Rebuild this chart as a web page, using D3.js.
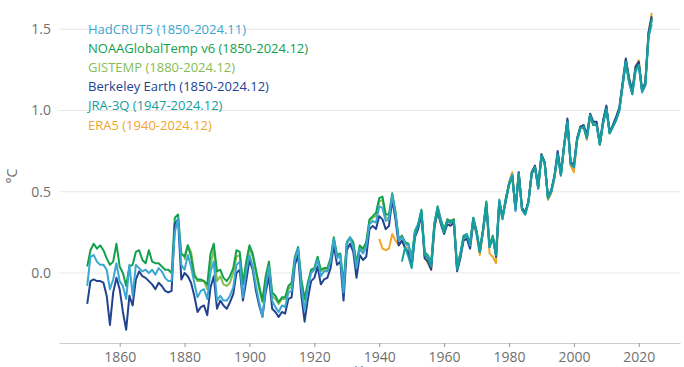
<!DOCTYPE html>
<html><head><meta charset="utf-8">
<script src="https://cdn.jsdelivr.net/npm/d3@7"></script>
<style>body{margin:0;background:#fff}svg{display:block;font-family:"Open Sans",sans-serif}</style>
</head><body>
<svg id="chart" width="684" height="367"></svg>
<script>
// ---- data (anomalies, °C, vs 1850-1900) ----
const hadcrutStart = 1850;
const hadcrut = [
-0.08,0.10,0.11,0.07,0.05,0.05,0.02,-0.10,-0.04,0.06,
-0.05,-0.08,-0.16,0.05,-0.14,0.05,0.03,0.01,0.02,0.00,
0.02,-0.01,0.03,0.01,-0.03,-0.05,-0.05,0.25,0.34,0.05,
0.02,0.11,0.04,-0.06,-0.15,-0.11,-0.10,-0.16,0.01,0.07,
-0.17,-0.14,-0.17,-0.17,-0.14,-0.09,0.05,0.07,-0.15,0.01,
0.11,0.04,-0.08,-0.18,-0.27,-0.09,0.04,-0.17,-0.21,-0.24,
-0.20,-0.21,-0.12,-0.11,0.08,0.15,-0.09,-0.23,-0.09,0.00,
0.02,0.08,-0.02,0.01,0.01,0.07,0.21,0.09,0.11,-0.12,
0.18,0.22,0.16,0.03,0.15,0.12,0.16,0.30,0.32,0.31,
0.41,0.40,0.32,0.33,0.48,0.36,0.20,0.22,0.18,0.17,
0.08,0.25,0.30,0.38,0.12,0.10,0.05,0.30,0.40,0.32,
0.26,0.32,0.31,0.32,0.03,0.11,0.22,0.24,0.17,0.33,
0.25,0.13,0.26,0.43,0.16,0.22,0.11,0.45,0.33,0.45,
0.55,0.60,0.38,0.61,0.39,0.36,0.43,0.61,0.65,0.52,
0.72,0.67,0.46,0.50,0.59,0.73,0.60,0.78,0.93,0.67,
0.65,0.82,0.89,0.90,0.83,0.97,0.91,0.91,0.79,0.92,
1.01,0.86,0.90,0.94,1.00,1.15,1.30,1.17,1.10,1.24,
1.28,1.11,1.15,1.45,1.53];

const noaaStart = 1850;
const noaa = [
0.04,0.14,0.18,0.15,0.17,0.14,0.09,0.05,0.07,0.18,
0.04,0.00,-0.08,0.04,0.05,0.13,0.14,0.08,0.06,0.14,
0.07,0.06,0.06,0.04,0.02,0.02,0.00,0.34,0.36,0.12,
0.10,0.17,0.10,-0.02,-0.04,-0.04,-0.05,-0.07,0.12,0.18,
0.01,0.02,-0.03,-0.05,-0.02,0.03,0.14,0.13,-0.07,0.07,
0.17,0.12,0.02,-0.08,-0.17,-0.02,0.07,-0.12,-0.14,-0.18,
-0.15,-0.15,-0.08,-0.06,0.10,0.16,-0.04,-0.16,-0.06,0.02,
0.03,0.10,0.02,0.03,0.03,0.09,0.22,0.11,0.12,-0.07,
0.19,0.22,0.19,0.06,0.17,0.15,0.19,0.33,0.35,0.37,
0.46,0.47,0.36,0.36,0.49,0.38,0.21,0.23,0.19,0.18,
0.09,0.26,0.30,0.39,0.13,0.11,0.06,0.31,0.41,0.33,
0.27,0.33,0.32,0.33,0.04,0.12,0.23,0.24,0.18,0.34,
0.26,0.14,0.27,0.44,0.17,0.23,0.12,0.45,0.34,0.46,
0.55,0.60,0.39,0.61,0.40,0.37,0.44,0.61,0.65,0.53,
0.72,0.68,0.47,0.50,0.59,0.73,0.61,0.78,0.93,0.67,
0.66,0.82,0.89,0.90,0.83,0.97,0.91,0.91,0.79,0.93,
1.02,0.86,0.90,0.95,1.00,1.16,1.30,1.18,1.11,1.25,
1.28,1.12,1.16,1.46,1.56];

const gistempStart = 1880;
const gistemp = [
0.08,0.17,0.13,0.00,-0.05,-0.05,-0.05,-0.10,0.05,0.15,
-0.05,-0.02,-0.07,-0.08,-0.06,0.00,0.10,0.11,-0.06,0.05,
0.15,0.10,0.00,-0.10,-0.18,-0.04,0.05,-0.14,-0.16,-0.19,
-0.16,-0.16,-0.10,-0.08,0.09,0.15,-0.06,-0.17,-0.07,0.01,
0.02,0.09,0.01,0.02,0.02,0.08,0.21,0.10,0.11,-0.08,
0.18,0.21,0.18,0.05,0.16,0.14,0.18,0.32,0.34,0.35,
0.44,0.45,0.34,0.34,0.47,0.37,0.20,0.22,0.18,0.17,
0.08,0.25,0.29,0.38,0.12,0.10,0.05,0.30,0.40,0.32,
0.26,0.32,0.31,0.32,0.03,0.11,0.22,0.23,0.17,0.33,
0.25,0.13,0.26,0.43,0.16,0.22,0.11,0.44,0.33,0.45,
0.55,0.61,0.39,0.62,0.40,0.37,0.44,0.62,0.66,0.53,
0.73,0.68,0.46,0.50,0.59,0.74,0.61,0.79,0.94,0.68,
0.66,0.83,0.90,0.91,0.84,0.98,0.92,0.92,0.80,0.93,
1.02,0.87,0.91,0.95,1.01,1.16,1.31,1.19,1.11,1.26,
1.29,1.12,1.16,1.47,1.57];

const berkeleyStart = 1850;
const berkeley = [
-0.19,-0.05,-0.04,-0.05,-0.05,-0.06,-0.14,-0.32,-0.12,-0.03,
-0.10,-0.24,-0.35,-0.14,-0.20,-0.04,0.01,-0.02,-0.03,-0.05,
-0.07,-0.10,-0.06,-0.08,-0.11,-0.12,-0.11,0.30,0.33,-0.04,
0.00,-0.02,-0.06,-0.14,-0.24,-0.21,-0.20,-0.26,-0.09,-0.02,
-0.22,-0.17,-0.20,-0.22,-0.18,-0.13,0.00,0.02,-0.17,-0.05,
0.08,0.02,-0.11,-0.20,-0.27,-0.12,-0.02,-0.22,-0.24,-0.27,
-0.24,-0.25,-0.16,-0.15,0.05,0.11,-0.14,-0.30,-0.16,-0.05,
-0.03,0.04,-0.07,-0.04,-0.03,0.03,0.17,0.05,0.07,-0.17,
0.14,0.18,0.13,-0.03,0.11,0.08,0.10,0.27,0.29,0.27,
0.35,0.33,0.27,0.29,0.45,0.33,0.17,0.20,0.15,0.13,
0.04,0.22,0.27,0.36,0.09,0.07,0.02,0.28,0.38,0.30,
0.24,0.30,0.29,0.31,0.01,0.09,0.20,0.21,0.15,0.31,
0.25,0.13,0.26,0.41,0.16,0.22,0.10,0.43,0.35,0.44,
0.54,0.60,0.39,0.62,0.40,0.37,0.44,0.62,0.66,0.53,
0.73,0.68,0.47,0.51,0.60,0.75,0.61,0.79,0.95,0.68,
0.67,0.83,0.90,0.91,0.85,0.98,0.93,0.93,0.80,0.94,
1.03,0.87,0.91,0.96,1.02,1.17,1.32,1.20,1.12,1.27,
1.30,1.13,1.17,1.48,1.58];

const jraStart = 1947;
const jra = [
0.07,0.16,0.10,
0.03,0.23,0.29,0.38,0.11,0.09,0.04,0.29,0.40,0.31,
0.25,0.32,0.31,0.32,0.02,0.11,0.22,0.23,0.18,0.34,
0.25,0.13,0.27,0.43,0.16,0.22,0.11,0.44,0.34,0.45,
0.54,0.59,0.40,0.60,0.39,0.36,0.44,0.61,0.65,0.52,
0.72,0.67,0.46,0.50,0.59,0.73,0.60,0.79,0.93,0.67,
0.65,0.82,0.89,0.90,0.83,0.97,0.91,0.91,0.79,0.92,
1.01,0.86,0.90,0.94,1.00,1.15,1.30,1.18,1.10,1.25,
1.28,1.12,1.16,1.46,1.56];

const era5Start = 1940;
const era5 = [
0.21,0.15,0.14,0.15,0.24,0.20,0.17,0.20,0.16,0.15,
0.06,0.24,0.29,0.37,0.10,0.06,0.02,0.27,0.38,0.31,
0.25,0.33,0.30,0.33,0.02,0.10,0.21,0.22,0.18,0.33,
0.23,0.11,0.25,0.42,0.12,0.10,0.06,0.42,0.34,0.45,
0.56,0.62,0.40,0.61,0.39,0.36,0.44,0.61,0.65,0.52,
0.72,0.68,0.45,0.49,0.58,0.73,0.60,0.78,0.94,0.66,
0.62,0.81,0.89,0.90,0.82,0.96,0.91,0.91,0.79,0.92,
1.01,0.86,0.90,0.94,1.00,1.15,1.31,1.20,1.12,1.27,
1.31,1.13,1.17,1.48,1.60];

const legendLabels = ["HadCRUT5 (1850-2024.11)","NOAAGlobalTemp v6 (1850-2024.12)","GISTEMP (1880-2024.12)","Berkeley Earth (1850-2024.12)","JRA-3Q (1947-2024.12)","ERA5 (1940-2024.12)"];
const xTicks = [1860,1880,1900,1920,1940,1960,1980,2000,2020];
const yTicks = [0.0,0.5,1.0,1.5];

// ---- build ----
const colors = ["#3aa7d3","#13a04c","#86bd52","#22448e","#169d9d","#f2a52a"];
const series = [
  {start:hadcrutStart, values:hadcrut},
  {start:noaaStart, values:noaa},
  {start:gistempStart, values:gistemp},
  {start:berkeleyStart, values:berkeley},
  {start:jraStart, values:jra},
  {start:era5Start, values:era5}
].map((s,i)=>({...s, color:colors[i], label:legendLabels[i],
  pts:s.values.map((v,j)=>[s.start+j, v])}));

const svg = d3.select("#chart");
const x = d3.scaleLinear().domain([1841.3, 2032.7]).range([59, 680]);
const y = d3.scaleLinear().domain([-0.431, 1.68]).range([343, 0]);

// grid
svg.append("g").selectAll("line").data(yTicks).join("line")
  .attr("x1", 59).attr("x2", 680)
  .attr("y1", d=>y(d)).attr("y2", d=>y(d))
  .attr("stroke", "#e8e8e8").attr("stroke-width", 1);

// y axis labels
const ya = svg.append("g").attr("transform","translate(59,0)")
  .call(d3.axisLeft(y).tickValues(yTicks).tickFormat(d3.format(".1f")).tickSize(0).tickPadding(8));
ya.select(".domain").remove();
ya.selectAll("text").attr("fill","#707070").style("font-size","14px").style("font-family","'Open Sans',sans-serif");

// x axis
const xa = svg.append("g").attr("transform","translate(0,343)")
  .call(d3.axisBottom(x).tickValues(xTicks).tickFormat(d3.format("d")).tickSize(4).tickSizeOuter(0).tickPadding(5));
xa.select(".domain").attr("stroke","#cccccc");
xa.selectAll(".tick line").attr("stroke","#999999");
xa.selectAll("text").attr("fill","#707070").style("font-size","14px").style("font-family","'Open Sans',sans-serif");

// axis titles
svg.append("text").attr("transform","translate(17,176) rotate(-90)")
  .attr("text-anchor","middle").attr("fill","#707070").style("font-size","14px").text("°C");
svg.append("text").attr("x",369.5).attr("y",376).attr("text-anchor","middle")
  .attr("fill","#707070").style("font-size","14px").text("Year");

// lines
const line = d3.line().x(d=>x(d[0])).y(d=>y(d[1]));
const order = [5,2,1,3,0,4];
svg.append("g").selectAll("path").data(order.map(i=>series[i])).join("path")
  .attr("d", d=>line(d.pts)).attr("fill","none")
  .attr("stroke", d=>d.color).attr("stroke-width", 2).attr("stroke-linejoin","round");

// legend
svg.append("g").selectAll("text").data(series).join("text")
  .attr("x", 88).attr("y", (d,i)=>29 + i*19.2).attr("dy","0.35em")
  .attr("fill", d=>d.color).style("font-size","13px").text(d=>d.label);
</script>
</body></html>
